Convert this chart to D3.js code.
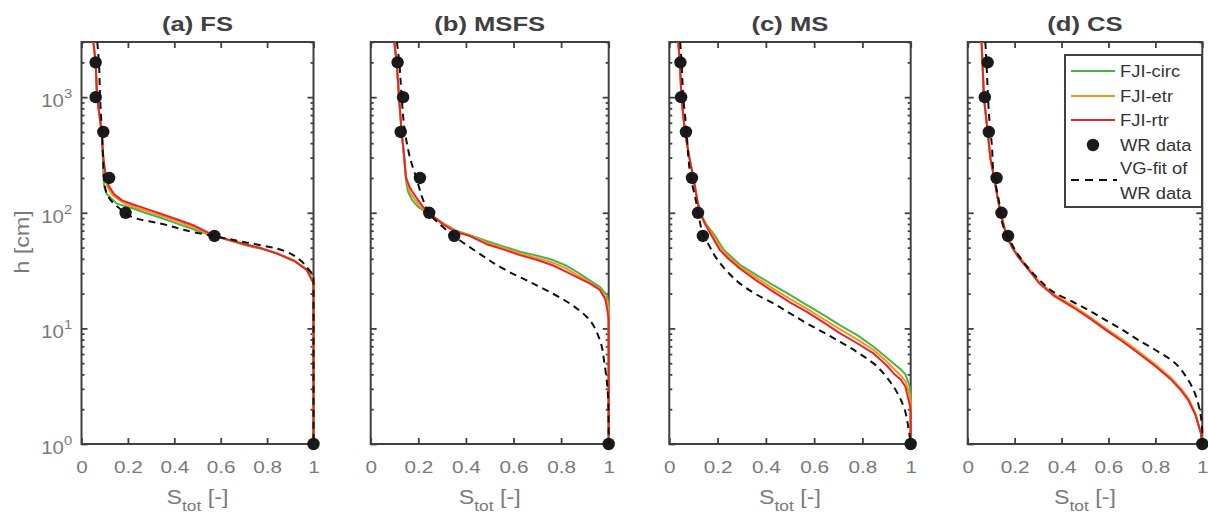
<!DOCTYPE html>
<html>
<head>
<meta charset="utf-8">
<script src="https://cdn.jsdelivr.net/npm/d3@7"></script>
<style>
  body { margin: 0; background: #fff; }
  text { font-family: "Liberation Sans", Arial, Helvetica, sans-serif; }
</style>
</head>
<body>
<div id="chart"></div>
<script>
// Titres des panneaux et ticks
const panelTitles = ["(a) FS", "(b) MSFS", "(c) MS", "(d) CS"];
const xTicks = [0, 0.2, 0.4, 0.6, 0.8, 1];
const yMajor = [1, 10, 100, 1000];
const yExp = ["0", "1", "2", "3"];
const legendLabels = ["FJI-circ", "FJI-etr", "FJI-rtr", "WR data", "VG-fit of", "WR data"];

// WR data : h [cm] communs, S_tot par sol
const wrH = [2000, 1000, 500, 200, 100, 63, 1];
const wrS_FS = [0.061, 0.061, 0.094, 0.119, 0.19, 0.573, 1];
const wrS_MSFS = [0.113, 0.136, 0.126, 0.207, 0.246, 0.351, 1];
const wrS_MS = [0.046, 0.049, 0.069, 0.094, 0.119, 0.139, 1];
const wrS_CS = [0.085, 0.073, 0.09, 0.123, 0.144, 0.172, 1];

// courbes [S_tot, h]
const circFS = [[0.051,3000],[0.061,2000],[0.067,1000],[0.087,500],[0.092,300],[0.094,210],[0.098,170],[0.108,146],[0.152,120],[0.223,109],[0.28,99],[0.338,91],[0.41,81],[0.482,72],[0.568,63],[0.62,59],[0.697,53],[0.78,48.5],[0.841,44.5],[0.92,38],[0.971,32],[0.99,27],[1,25],[1,1]];
const etrFS = [[0.051,3000],[0.061,2000],[0.067,1000],[0.087,500],[0.094,300],[0.1,210],[0.112,168],[0.132,143],[0.18,122],[0.24,110],[0.338,95],[0.41,85],[0.482,75],[0.568,63.5],[0.62,59.5],[0.697,54],[0.78,49],[0.841,45],[0.92,38.5],[0.971,32.5],[0.99,27.5],[1,25],[1,1]];
const rtrFS = [[0.051,3000],[0.061,2000],[0.067,1000],[0.087,500],[0.094,300],[0.105,205],[0.118,170],[0.14,145],[0.175,128],[0.223,118],[0.28,108],[0.338,98.6],[0.41,88],[0.482,78],[0.568,64],[0.62,59.5],[0.697,54],[0.78,49],[0.841,44.5],[0.92,38],[0.971,32],[0.99,27],[1,24.6],[1,1]];
const vgFS = [[0.068,3000],[0.075,2000],[0.08,1000],[0.088,500],[0.093,300],[0.097,196],[0.103,160],[0.116,137],[0.157,112],[0.238,89],[0.338,81],[0.482,68],[0.568,63],[0.697,56],[0.841,49],[0.942,39],[0.975,33],[0.992,30],[1,27],[1,1]];

const circMSFS = [[0.099,3000],[0.109,2000],[0.119,1000],[0.13,500],[0.141,300],[0.147,200],[0.152,170],[0.158,150],[0.175,128],[0.2,112],[0.24,100],[0.305,81],[0.36,70],[0.417,64],[0.487,57],[0.56,51],[0.627,46],[0.7,42.5],[0.767,39],[0.82,35],[0.866,30.8],[0.92,26],[0.963,22.9],[0.992,19.4],[1,16],[1,1]];
const etrMSFS = [[0.099,3000],[0.109,2000],[0.119,1000],[0.13,500],[0.141,300],[0.148,200],[0.158,170],[0.165,150],[0.188,128],[0.21,112],[0.243,100],[0.305,80],[0.36,69],[0.417,63.5],[0.487,55],[0.56,49.5],[0.627,44.5],[0.7,40.5],[0.767,37],[0.82,33],[0.866,29],[0.92,25],[0.963,22],[0.992,17.6],[1,14],[1,1]];
const rtrMSFS = [[0.099,3000],[0.109,2000],[0.119,1000],[0.13,500],[0.141,300],[0.149,200],[0.162,170],[0.172,156],[0.2,128],[0.221,112],[0.246,99],[0.305,79],[0.36,68],[0.417,62.9],[0.487,53.5],[0.56,48],[0.627,43],[0.7,39],[0.767,35],[0.82,31],[0.866,27.8],[0.92,24.5],[0.963,21.5],[0.985,18],[0.992,15.3],[1,12],[1,1]];
const vgMSFS = [[0.11,3000],[0.12,2000],[0.13,1000],[0.144,500],[0.165,300],[0.193,196],[0.221,128],[0.246,99],[0.319,70.7],[0.445,46],[0.557,32.8],[0.697,23.6],[0.837,16.4],[0.907,12.6],[0.963,7.9],[0.982,5],[0.995,3],[0.999,2],[1,1]];

const circMS = [[0.037,3000],[0.044,2000],[0.05,1000],[0.065,500],[0.083,300],[0.1,200],[0.116,128],[0.128,100],[0.152,80],[0.19,63],[0.225,48],[0.26,41],[0.293,35.5],[0.36,29],[0.432,23.6],[0.5,19.5],[0.57,15.9],[0.64,13],[0.708,10.6],[0.78,8.7],[0.846,6.93],[0.9,5.6],[0.929,4.98],[0.96,4.4],[0.978,4],[0.995,3.2],[1,2.76],[1,1]];
const etrMS = [[0.037,3000],[0.044,2000],[0.05,1000],[0.065,500],[0.083,300],[0.1,200],[0.116,128],[0.128,100],[0.15,80],[0.183,63],[0.218,48],[0.255,40],[0.293,34],[0.36,27.5],[0.432,22],[0.5,18],[0.57,14.8],[0.64,12],[0.708,9.8],[0.78,8],[0.846,6.5],[0.9,5.2],[0.929,4.5],[0.96,3.9],[0.978,3.5],[0.995,2.7],[1,2.3],[1,1]];
const rtrMS = [[0.037,3000],[0.044,2000],[0.05,1000],[0.065,500],[0.083,300],[0.1,200],[0.116,128],[0.127,100],[0.148,80],[0.176,63],[0.21,47.5],[0.245,40],[0.293,32.8],[0.36,26],[0.432,20.7],[0.5,16.8],[0.57,13.9],[0.64,11.2],[0.708,9.05],[0.78,7.4],[0.846,6.07],[0.9,4.8],[0.929,4.08],[0.96,3.6],[0.978,3.13],[0.998,2.1],[1,1.9],[1,1]];
const vgMS = [[0.045,3000],[0.051,2000],[0.058,1000],[0.072,500],[0.079,300],[0.089,200],[0.107,137],[0.12,100],[0.141,65],[0.165,52],[0.19,42],[0.24,31],[0.293,24.4],[0.36,19.7],[0.432,16.4],[0.5,13.5],[0.57,11.06],[0.64,9.2],[0.708,7.65],[0.78,6.2],[0.846,4.98],[0.9,3.8],[0.929,3.13],[0.971,2.1],[0.992,1.32],[1,1]];

const circCS = [[0.059,3000],[0.063,2000],[0.069,1000],[0.085,500],[0.097,294],[0.113,200],[0.126,140],[0.14,100],[0.165,63],[0.19,49.5],[0.214,41.5],[0.25,34],[0.306,24.8],[0.37,19.3],[0.447,15.5],[0.52,12.4],[0.588,9.9],[0.66,7.8],[0.729,6.15],[0.8,4.8],[0.869,3.62],[0.91,2.95],[0.94,2.45],[0.97,1.82],[0.994,1.24],[1,1]];
const etrCS = [[0.059,3000],[0.063,2000],[0.069,1000],[0.085,500],[0.097,294],[0.113,200],[0.126,141],[0.14,101],[0.165,64],[0.19,51],[0.214,43],[0.25,35],[0.306,25],[0.37,19.6],[0.447,15.8],[0.52,12.6],[0.588,10],[0.66,8],[0.729,6.3],[0.8,4.9],[0.869,3.7],[0.91,3],[0.94,2.5],[0.97,1.85],[0.994,1.25],[1,1]];
const rtrCS = [[0.059,3000],[0.063,2000],[0.069,1000],[0.085,500],[0.097,294],[0.113,200],[0.126,140],[0.14,100],[0.165,63],[0.19,50],[0.214,42],[0.25,34],[0.306,24.4],[0.37,19],[0.447,15.3],[0.52,12.2],[0.588,9.7],[0.66,7.7],[0.729,6.07],[0.8,4.7],[0.869,3.57],[0.91,2.9],[0.94,2.4],[0.97,1.8],[0.994,1.24],[1,1]];
const vgCS = [[0.075,3000],[0.08,2000],[0.083,1450],[0.091,700],[0.104,360],[0.108,243],[0.134,123],[0.15,78],[0.172,62],[0.221,41.7],[0.3,27],[0.376,20],[0.447,17],[0.52,14.2],[0.588,11.8],[0.66,9.7],[0.729,7.9],[0.8,6.5],[0.869,5.3],[0.94,3.57],[0.982,2.25],[1,1.2],[1,1]];

// Couleurs
const colCirc = "#47b449", colEtr = "#f7931e", colRtr = "#e8262a";
const axisCol = "#404040", labelCol = "#7a7a7a";

// Mise en page
const panelX = [[81.5, 313.5], [370.7, 608.7], [669.3, 910.7], [967.7, 1202.3]];
const plotTop = 42, plotBottom = 444;

const panels = [
  { circ: circFS, etr: etrFS, rtr: rtrFS, vg: vgFS, wr: wrS_FS },
  { circ: circMSFS, etr: etrMSFS, rtr: rtrMSFS, vg: vgMSFS, wr: wrS_MSFS },
  { circ: circMS, etr: etrMS, rtr: rtrMS, vg: vgMS, wr: wrS_MS },
  { circ: circCS, etr: etrCS, rtr: rtrCS, vg: vgCS, wr: wrS_CS }
];

const svg = d3.select("#chart").append("svg")
  .attr("width", 1208)
  .attr("height", 519);

const yMinor = [];
[1, 10, 100, 1000].forEach(d => { for (let k = 2; k <= 9; k++) if (d * k <= 3000) yMinor.push(d * k); });

panels.forEach((p, i) => {
  const x = d3.scaleLinear().domain([0, 1]).range(panelX[i]);
  const y = d3.scaleLog().domain([1, 3000]).range([plotBottom, plotTop]);
  const g = svg.append("g");

  g.append("clipPath").attr("id", "clip" + i)
    .append("rect")
    .attr("x", panelX[i][0] - 3).attr("y", plotTop)
    .attr("width", panelX[i][1] - panelX[i][0] + 6).attr("height", plotBottom - plotTop + 3);

  // cadre
  g.append("rect")
    .attr("x", panelX[i][0]).attr("y", plotTop)
    .attr("width", panelX[i][1] - panelX[i][0]).attr("height", plotBottom - plotTop)
    .attr("fill", "none").attr("stroke", axisCol).attr("stroke-width", 2);

  // axes (ticks vers l'intérieur)
  const styleAxis = sel => {
    sel.select(".domain").remove();
    sel.selectAll(".tick line").attr("stroke", axisCol).attr("stroke-width", 1.8);
    sel.selectAll(".tick text").attr("fill", labelCol).style("font-size", "17px");
  };
  g.append("g").attr("transform", `translate(0,${plotBottom})`)
    .call(d3.axisBottom(x).tickValues(xTicks).tickSize(-6).tickPadding(16.5).tickFormat(d3.format("")))
    .call(styleAxis)
    .selectAll(".tick text").attr("transform", "scale(1.22,1)");
  g.append("g").attr("transform", `translate(0,${plotTop})`)
    .call(d3.axisTop(x).tickValues(xTicks).tickSize(-6).tickFormat(""))
    .call(styleAxis);
  const yLeft = g.append("g").attr("transform", `translate(${panelX[i][0]},0)`)
    .call(d3.axisLeft(y).tickValues(yMajor).tickSize(-6).tickPadding(8.5).tickFormat(""))
    .call(styleAxis);
  g.append("g").attr("transform", `translate(${panelX[i][0]},0)`)
    .call(d3.axisLeft(y).tickValues(yMinor).tickSize(-3).tickFormat(""))
    .call(styleAxis);
  g.append("g").attr("transform", `translate(${panelX[i][1]},0)`)
    .call(d3.axisRight(y).tickValues(yMajor).tickSize(-6).tickFormat(""))
    .call(styleAxis);
  g.append("g").attr("transform", `translate(${panelX[i][1]},0)`)
    .call(d3.axisRight(y).tickValues(yMinor).tickSize(-3).tickFormat(""))
    .call(styleAxis);

  if (i === 0) {
    yLeft.selectAll(".tick text")
      .attr("dy", null).attr("y", 9.5)
      .attr("transform", "scale(1.1,1)")
      .style("font-size", "18.5px")
      .each(function(d, j) {
        const t = d3.select(this);
        t.append("tspan").text("10");
        t.append("tspan").attr("dy", -9).style("font-size", "13.5px").text(yExp[j]);
      });
  }

  // courbes
  const line = d3.line().x(d => x(d[0])).y(d => y(d[1]));
  const smooth = d3.line().x(d => x(d[0])).y(d => y(d[1])).curve(d3.curveMonotoneY);
  const plot = g.append("g").attr("clip-path", `url(#clip${i})`);
  [[p.circ, colCirc], [p.etr, colEtr], [p.rtr, colRtr]].forEach(([data, c]) => {
    plot.append("path").datum(data)
      .attr("d", line)
      .attr("fill", "none")
      .attr("stroke", c)
      .attr("stroke-width", 2)
      .attr("stroke-linejoin", "round");
  });

  g.selectAll(".wr").data(wrH.map((h, j) => [p.wr[j], h]))
    .enter().append("circle")
    .attr("cx", d => x(d[0]))
    .attr("cy", d => y(d[1]))
    .attr("r", 6.2)
    .attr("fill", "#1a1a1a");

  g.append("path").datum(p.vg)
    .attr("clip-path", `url(#clip${i})`)
    .attr("d", smooth)
    .attr("fill", "none")
    .attr("stroke", "#111")
    .attr("stroke-width", 2)
    .attr("stroke-dasharray", "7,5");

  // titre
  g.append("text")
    .attr("transform", `translate(${(panelX[i][0] + panelX[i][1]) / 2},31) scale(1.22,1)`)
    .attr("text-anchor", "middle")
    .attr("fill", axisCol)
    .style("font-size", "21px").style("font-weight", "bold")
    .text(panelTitles[i]);

  // label x
  const xl = g.append("text")
    .attr("transform", `translate(${(panelX[i][0] + panelX[i][1]) / 2},504) scale(1.16,1)`)
    .attr("text-anchor", "middle")
    .attr("fill", labelCol)
    .style("font-size", "20px");
  xl.append("tspan").text("S");
  xl.append("tspan").attr("dy", 7).style("font-size", "15px").text("tot");
  xl.append("tspan").attr("dy", -7).text(" [-]");
});

// label y
svg.append("text")
  .attr("transform", "translate(29,242) rotate(-90) scale(1.17,1)")
  .attr("text-anchor", "middle")
  .attr("fill", labelCol)
  .style("font-size", "20px")
  .text("h [cm]");

// Légende
const legend = svg.append("g");
legend.append("rect")
  .attr("x", 1065).attr("y", 55).attr("width", 137).attr("height", 152)
  .attr("fill", "#fff").attr("stroke", axisCol).attr("stroke-width", 2);

const legendY = [71, 96, 120, 145, 168, 193];
[colCirc, colEtr, colRtr].forEach((c, j) => {
  legend.append("line")
    .attr("x1", 1071).attr("x2", 1115)
    .attr("y1", legendY[j]).attr("y2", legendY[j])
    .attr("stroke", c).attr("stroke-width", 2);
});
legend.append("circle").attr("cx", 1093).attr("cy", legendY[3]).attr("r", 6.2).attr("fill", "#1a1a1a");
legend.append("line")
  .attr("x1", 1071).attr("x2", 1117)
  .attr("y1", 180).attr("y2", 180)
  .attr("stroke", "#111").attr("stroke-width", 2).attr("stroke-dasharray", "8,6");

legend.selectAll(".lt").data(legendLabels)
  .enter().append("text")
  .attr("transform", (d, j) => `translate(1120,${legendY[j] + 6}) scale(1.08,1)`)
  .attr("fill", "#333")
  .style("font-size", "17px")
  .text(d => d);
</script>
</body>
</html>
